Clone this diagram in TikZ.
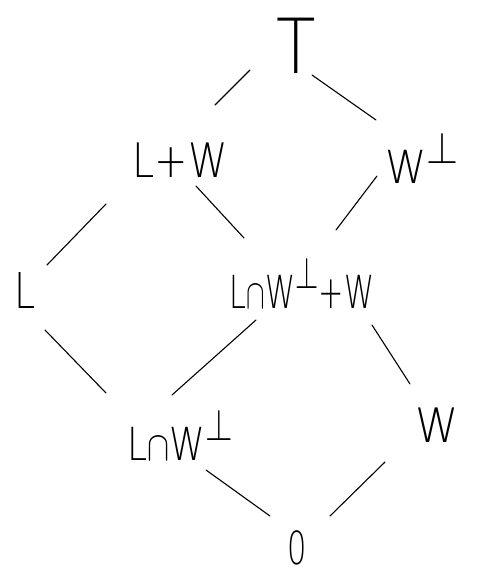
\documentclass[tikz,border=0pt]{standalone}
\usepackage{fontspec}
\newfontfamily\penfont{DejaVu Sans ExtraLight}
\newcommand{\myperp}{\raisebox{0.42em}{\scalebox{1.5}{$\scriptstyle\perp$}}}
\newcommand{\mycap}{\scalebox{1.4}{$\scriptstyle\cap$}}
\begin{document}
\begin{tikzpicture}[x=1pt,y=-1pt,
  lbl/.style={inner sep=0pt,font=\penfont\fontsize{38}{38}\selectfont},
  edge/.style={line width=1.1pt,line cap=round}]
\useasboundingbox (0,0) rectangle (478,584);
\node[lbl] (top) at (296,46) {\scalebox{1.7}[2.0]{T}};
\node[lbl] (LW) at (180,160) {\scalebox{1.05}[1.25]{L+W}};
\node[lbl] (Wp) at (422,158) {\scalebox{1.1}[1.2]{W\myperp}};
\node[lbl] (L) at (25,290) {\scalebox{1}[1.3]{L}};
\node[lbl] (M) at (302,283) {\scalebox{0.8}[1.2]{L\mycap W\myperp+W}};
\node[lbl] (LWp) at (180,435) {\scalebox{0.95}[1.2]{L\mycap W\myperp}};
\node[lbl] (W) at (437,425) {\scalebox{1.15}[1.25]{W}};
\node[lbl] (zero) at (297,548) {\scalebox{0.8}[1.2]{0}};
\coordinate (a1) at (215,105); \coordinate (a2) at (250,70);
\coordinate (b1) at (312,75); \coordinate (b2) at (376,120);
\coordinate (c1) at (106,204); \coordinate (c2) at (47,265);
\coordinate (d1) at (196,186); \coordinate (d2) at (244,238);
\coordinate (e1) at (377,176); \coordinate (e2) at (336,230);
\coordinate (f1) at (45,330); \coordinate (f2) at (106,393);
\coordinate (g1) at (256,320); \coordinate (g2) at (172,395);
\coordinate (h1) at (372,325); \coordinate (h2) at (410,384);
\coordinate (i1) at (206,470); \coordinate (i2) at (270,516);
\coordinate (j1) at (385,462); \coordinate (j2) at (330,516);
\draw[edge] (a1) -- (a2);
\draw[edge] (b1) -- (b2);
\draw[edge] (c1) -- (c2);
\draw[edge] (d1) -- (d2);
\draw[edge] (e1) -- (e2);
\draw[edge] (f1) -- (f2);
\draw[edge] (g1) -- (g2);
\draw[edge] (h1) -- (h2);
\draw[edge] (i1) -- (i2);
\draw[edge] (j1) -- (j2);
\end{tikzpicture}
\end{document}
